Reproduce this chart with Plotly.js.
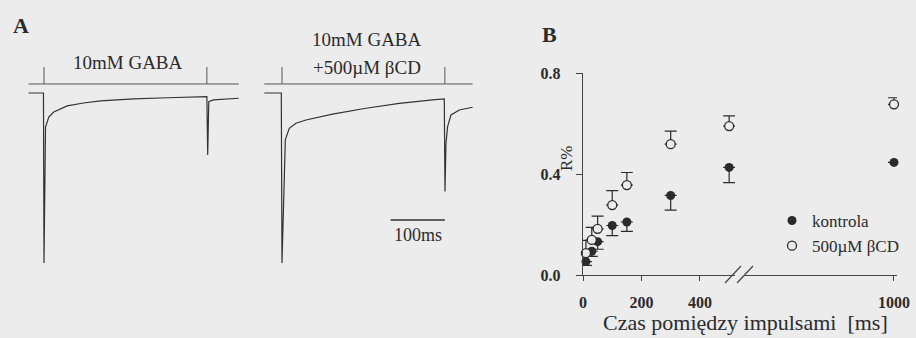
<!DOCTYPE html>
<html>
<head>
<meta charset="utf-8">
<script src="https://cdn.plot.ly/plotly-3.0.1.min.js"></script>
<style>html,body{margin:0;padding:0;background:#ececec;}#chart{width:916px;height:338px;}</style>
</head>
<body>
<div id="chart"></div>
<script>
// ---------- Panel A: current traces (time in ms from first pulse, normalized current) ----------
const gabaT = [-28.5, -1, 0, 1.5, 2.8, 8.8, 18, 42.7, 72.7, 104, 165, 227, 288, 300, 301.5, 303.5, 312, 337, 358.7];
const gabaI = [0, 0, -1.0, -0.51, -0.2, -0.141, -0.112, -0.076, -0.059, -0.047, -0.035, -0.028, -0.022, -0.021, -0.365, -0.051, -0.041, -0.035, -0.031];
const bcdTraceT = [-32.6, -1.3, 0, 1.5, 4.2, 6.1, 13.4, 25.8, 44.2, 93.2, 154.7, 216, 277.3, 298.9, 300.2, 302, 305, 311.2, 326.5, 351];
const bcdTraceI = [0, 0, -1.0, -0.806, -0.394, -0.276, -0.208, -0.178, -0.159, -0.124, -0.09, -0.061, -0.041, -0.035, -0.58, -0.3, -0.198, -0.129, -0.1, -0.084];
const pulseTimes = [0, 300];
const stimLevel = 0.053, stimTop = 0.153;
const scaleBarT = [200, 300];
const scaleBarLevel = -0.747;

// ---------- Panel B: paired-pulse recovery ----------
const intervals = [10, 30, 50, 100, 150, 300, 500, 1000];
const kontrola = [0.053, 0.094, 0.132, 0.196, 0.210, 0.315, 0.426, 0.446];
const kontrolaErr = [0.015, 0.02, 0.03, 0.04, 0.037, 0.058, 0.06, 0.0];
const bcd = [0.087, 0.139, 0.183, 0.277, 0.356, 0.518, 0.590, 0.676];
const bcdErr = [0.05, 0.05, 0.05, 0.057, 0.05, 0.052, 0.04, 0.026];
const breakAt = 520;

const ink = '#2b2b2b';
const serif = 'Liberation Serif, Times New Roman, serif';

function stimTrace(tArr, xa) {
  const xs = [tArr[0], tArr[tArr.length - 1]];
  const ys = [stimLevel, stimLevel];
  pulseTimes.forEach(p => { xs.push(null, p, p); ys.push(null, stimLevel, stimTop); });
  return {x: xs, y: ys, xaxis: xa, yaxis: 'y3', mode: 'lines', line: {color: '#555', width: 1}, showlegend: false, hoverinfo: 'skip'};
}

const traces = [];
traces.push({x: gabaT, y: gabaI, xaxis: 'x3', yaxis: 'y3', mode: 'lines', line: {color: '#333', width: 1.2}, showlegend: false});
traces.push({x: bcdTraceT, y: bcdTraceI, xaxis: 'x4', yaxis: 'y3', mode: 'lines', line: {color: '#333', width: 1.2}, showlegend: false});
traces.push(stimTrace(gabaT, 'x3'));
traces.push(stimTrace(bcdTraceT, 'x4'));
traces.push({x: scaleBarT, y: [scaleBarLevel, scaleBarLevel], xaxis: 'x4', yaxis: 'y3', mode: 'lines', line: {color: '#333', width: 1.3}, showlegend: false});

function split(vals, pred) { return vals.filter((v, i) => pred(intervals[i])); }
const left = t => t <= breakAt, right = t => t > breakAt;

[[left, 'x', true], [right, 'x2', false]].forEach(([pred, xa, leg]) => {
  traces.push({
    x: split(intervals, pred), y: split(kontrola, pred), xaxis: xa, yaxis: 'y',
    mode: 'markers', name: 'kontrola', legendgroup: 'k', showlegend: leg, cliponaxis: false,
    marker: {symbol: 'circle', size: 9, color: ink},
    error_y: {type: 'data', symmetric: false, array: split(intervals, pred).map(() => 0), arrayminus: split(kontrolaErr, pred), color: ink, thickness: 1.2, width: 6}
  });
});
[[left, 'x', true], [right, 'x2', false]].forEach(([pred, xa, leg]) => {
  traces.push({
    x: split(intervals, pred), y: split(bcd, pred), xaxis: xa, yaxis: 'y',
    mode: 'markers', name: '500µM βCD', legendgroup: 'b', showlegend: leg, cliponaxis: false,
    marker: {symbol: 'circle', size: 9, color: '#ececec', line: {color: ink, width: 1.3}},
    error_y: {type: 'data', symmetric: false, array: split(bcdErr, pred), arrayminus: split(intervals, pred).map(() => 0), color: ink, thickness: 1.2, width: 6}
  });
});

const W = 916, H = 338;
const px = v => v / W, py = v => 1 - v / H;

const tickFont = {family: serif, size: 16, color: ink, weight: 'bold'};
function ann(text, x, y, size, extra) {
  return Object.assign({text: text, xref: 'paper', yref: 'paper', x: px(x), y: py(y), xanchor: 'center', yanchor: 'middle',
    showarrow: false, font: {family: serif, size: size, color: ink}}, extra || {});
}
const layout = {
  width: W, height: H,
  margin: {l: 0, r: 0, t: 0, b: 0},
  paper_bgcolor: '#ececec', plot_bgcolor: 'rgba(0,0,0,0)',
  font: {family: serif, color: ink},
  showlegend: true,
  legend: {x: px(772), y: py(203), xanchor: 'left', yanchor: 'top', bgcolor: 'rgba(0,0,0,0)',
           font: {family: serif, size: 17, color: ink}, tracegroupgap: 0, itemwidth: 30},
  xaxis: {domain: [px(583), px(735)], range: [0, 520], anchor: 'y', showline: true, linecolor: '#444', linewidth: 1.2,
          ticks: 'outside', ticklen: 5, tickcolor: '#444', tickvals: [0, 200, 400], ticktext: ['0', '200', '400'],
          tickfont: tickFont, ticklabelstandoff: 8, showgrid: false, zeroline: false, fixedrange: true},
  xaxis2: {domain: [px(745), px(897)], range: [490.6, 1010.3], anchor: 'y', showline: true, linecolor: '#444', linewidth: 1.2,
           ticks: 'outside', ticklen: 5, tickcolor: '#444', tickvals: [1000], ticktext: ['1000'],
           tickfont: tickFont, ticklabelstandoff: 8, showgrid: false, zeroline: false, fixedrange: true},
  yaxis: {domain: [py(275), py(73)], range: [0, 0.8], anchor: 'x', showline: true, linecolor: '#444', linewidth: 1.2,
          ticks: 'outside', ticklen: 6, tickcolor: '#444', tickvals: [0, 0.4, 0.8], ticktext: ['0.0', '0.4', '0.8'],
          tickfont: tickFont, ticklabelstandoff: 12, showgrid: false, zeroline: false, fixedrange: true},
  xaxis3: {domain: [px(20), px(245)], range: [-44.2, 370.2], anchor: 'y3', visible: false, fixedrange: true},
  xaxis4: {domain: [px(258), px(483)], range: [-44.2, 370.2], anchor: 'y3', visible: false, fixedrange: true},
  yaxis3: {domain: [py(280), py(60)], range: [-1.1, 0.194], anchor: 'x3', visible: false, fixedrange: true},
  shapes: [
    {type: 'line', xref: 'paper', yref: 'paper', x0: px(725), y0: py(283), x1: px(741), y1: py(266), line: {color: '#444', width: 1.2}},
    {type: 'line', xref: 'paper', yref: 'paper', x0: px(737), y0: py(283), x1: px(753), y1: py(266), line: {color: '#444', width: 1.2}}
  ],
  annotations: [
    ann('<b>A</b>', 21, 26, 22),
    ann('<b>B</b>', 549, 35, 22),
    ann('10mM GABA', 128, 62, 19),
    ann('10mM GABA', 367, 40, 19),
    ann('+500µM βCD', 367, 67, 19),
    {text: '100ms', xref: 'x4', yref: 'y3', x: (scaleBarT[0] + scaleBarT[1]) / 2, y: scaleBarLevel, xanchor: 'center', yanchor: 'top', yshift: -3, showarrow: false, font: {family: serif, size: 18, color: ink}},
    ann('R%', 567, 158, 17, {textangle: -90}),
    ann('Czas pomiędzy impulsami  [ms]', 745, 322, 22)
  ]
};

Plotly.newPlot('chart', traces, layout, {staticPlot: true, displayModeBar: false});
</script>
</body>
</html>
